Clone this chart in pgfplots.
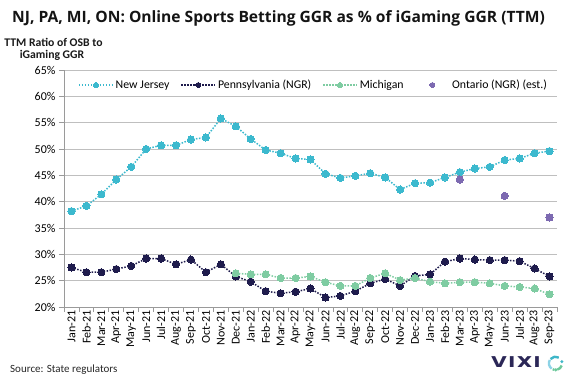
\documentclass[border=0pt]{standalone}
\usepackage{fontspec}
\setmainfont{Carlito}
\newfontfamily\logofont{Poppins}
\newfontfamily\titlefont{Open Sans}
\usepackage{graphicx}
\usepackage{pgfplots}
\pgfplotsset{compat=1.18}
\usepackage{pgfplotstable}
\pgfplotsset{mylegimg/.style={legend image code/.code={\draw[mark repeat=2,mark phase=2,##1] plot coordinates {(0pt,0pt) (17pt,0pt) (34pt,0pt)};}}}

\definecolor{nj}{HTML}{3CB9CE}
\definecolor{pa}{HTML}{1F1C4D}
\definecolor{mi}{HTML}{7FCCA2}
\definecolor{on}{HTML}{7D6AB1}
\definecolor{gridc}{HTML}{BFBFBF}
\definecolor{axc}{HTML}{9A9A9A}
\definecolor{logo}{HTML}{2B2757}
\definecolor{ringa}{HTML}{8DD3E6}
\definecolor{ringb}{HTML}{3FB6C8}
\definecolor{ringc}{HTML}{6CC89B}

\pgfplotstableread{
x y
0 38.2
1 39.2
2 41.4
3 44.2
4 46.6
5 50.0
6 50.7
7 50.7
8 51.8
9 52.2
10 55.8
11 54.3
12 51.9
13 49.8
14 49.2
15 48.2
16 48.0
17 45.3
18 44.5
19 44.9
20 45.4
21 44.6
22 42.3
23 43.5
24 43.6
25 44.6
26 45.6
27 46.3
28 46.6
29 47.9
30 48.2
31 49.2
32 49.6
}\njdata

\pgfplotstableread{
x y
0 27.5
1 26.6
2 26.6
3 27.2
4 27.8
5 29.2
6 29.2
7 28.1
8 29.0
9 26.6
10 28.1
11 25.8
12 24.8
13 23.0
14 22.6
15 22.9
16 23.5
17 21.8
18 22.1
19 23.0
20 24.5
21 25.3
22 24.0
23 25.9
24 26.2
25 28.6
26 29.2
27 29.0
28 28.9
29 28.9
30 28.7
31 27.3
32 25.8
}\padata

\pgfplotstableread{
x y
11 26.4
12 26.2
13 26.2
14 25.5
15 25.5
16 25.8
17 24.7
18 24.0
19 24.0
20 25.5
21 26.4
22 25.1
23 25.5
24 24.8
25 24.5
26 24.7
27 24.7
28 24.5
29 24.0
30 23.8
31 23.5
32 22.4
}\midata

\pgfplotstableread{
x y
26 44.2
29 41.1
32 37.0
}\ondata

\begin{document}
\begin{tikzpicture}
\useasboundingbox (0,0) rectangle (568pt,379pt);
\node[anchor=base west, inner sep=0pt, font=\titlefont\fontsize{15.6}{18}\selectfont\bfseries, text=black!92] at (12pt,356pt) {NJ, PA, MI, ON: Online Sports Betting GGR as \% of iGaming GGR (TTM)};
\node[anchor=base, inner sep=0pt, font=\fontsize{11.7}{13}\selectfont\bfseries, text=black!90] at (53.5pt,332.5pt) {TTM Ratio of OSB to};
\node[anchor=base, inner sep=0pt, font=\fontsize{11.7}{13}\selectfont\bfseries, text=black!90] at (52pt,320pt) {iGaming GGR};
\node[anchor=base west, inner sep=0pt, font=\fontsize{11}{13}\selectfont, text=black!85] at (10pt,6pt) {Source: State regulators};
\node[anchor=base west, inner sep=0pt, font=\logofont\fontsize{15.5}{16}\selectfont\bfseries, text=logo] at (491pt,11.7pt) {\scalebox{1.4}[1]{V\kern1.2pt I\kern1.2pt X\kern1.2pt I}};
\draw[line width=2.4pt, color=ringa] ([shift={(150:6.6pt)}]555.5pt,15.7pt) arc (150:235:6.6pt);
\draw[line width=2.4pt, color=ringb] ([shift={(60:6.6pt)}]555.5pt,15.7pt) arc (60:140:6.6pt);
\draw[line width=2.4pt, color=ringc] ([shift={(245:6.6pt)}]555.5pt,15.7pt) arc (245:260:6.6pt);
\draw[line width=2.4pt, color=ringc] ([shift={(285:6.6pt)}]555.5pt,15.7pt) arc (285:340:6.6pt);
\fill[ringb] ([shift={(15:6.6pt)}]555.5pt,15.7pt) circle (1.7pt);
\fill[ringc] ([shift={(272:6.6pt)}]555.5pt,15.7pt) circle (1.7pt);
\begin{axis}[
  at={(64pt,72pt)}, anchor=south west,
  scale only axis, width=493pt, height=237pt,
  xmin=-0.5, xmax=32.5, ymin=20, ymax=65,
  axis x line*=bottom, axis y line*=left,
  axis line style={draw=axc, line width=0.8pt},
  ytick={20,25,...,65},
  yticklabel={\pgfmathprintnumber{\tick}\%},
  ymajorgrids, grid style={draw=gridc, line width=0.8pt},
  tick align=outside, major tick length=5pt,
  tick style={draw=axc, line width=0.8pt},
  xtick={-0.5,0.5,...,32.5}, xticklabels={},
  extra x ticks={0,1,...,32},
  extra x tick labels={Jan-21,Feb-21,Mar-21,Apr-21,May-21,Jun-21,Jul-21,Aug-21,Sep-21,Oct-21,Nov-21,Dec-21,Jan-22,Feb-22,Mar-22,Apr-22,May-22,Jun-22,Jul-22,Aug-22,Sep-22,Oct-22,Nov-22,Dec-22,Jan-23,Feb-23,Mar-23,Apr-23,May-23,Jun-23,Jul-23,Aug-23,Sep-23},
  extra x tick style={major tick length=0pt},
  xticklabel style={rotate=90, anchor=east, font=\fontsize{12}{14}\selectfont},
  yticklabel style={font=\fontsize{12}{14}\selectfont},
  /pgf/number format/assume math mode=true,
  legend style={at={(axis description cs:0.0284,0.9367)}, anchor=west, draw=none, fill=none, inner sep=0pt,
    font=\fontsize{11.8}{13}\selectfont, /tikz/every even column/.append style={column sep=9pt}},
  legend columns=4, legend cell align=left,
  mylegimg,
  legend image post style={mark size=2.5pt},
  every axis plot/.append style={line width=1.5pt, dash pattern=on 1.5pt off 1.5pt, mark=*, mark size=3.6pt},
]
\addplot[color=nj, mark options={solid, fill=nj, draw=nj, line width=0pt}] table {\njdata};
\addlegendentry{New Jersey}
\addplot[color=pa, mark options={solid, fill=pa, draw=pa, line width=0pt}] table {\padata};
\addlegendentry{Pennsylvania (NGR)}
\addplot[color=mi, mark options={solid, fill=mi, draw=mi, line width=0pt}] table {\midata};
\addlegendentry{Michigan}
\addplot[color=on, draw opacity=0, mark options={solid, fill=on, draw=on, draw opacity=1, line width=0pt}] table {\ondata};
\addlegendentry{Ontario (NGR) (est.)}
\end{axis}
\end{tikzpicture}
\end{document}
